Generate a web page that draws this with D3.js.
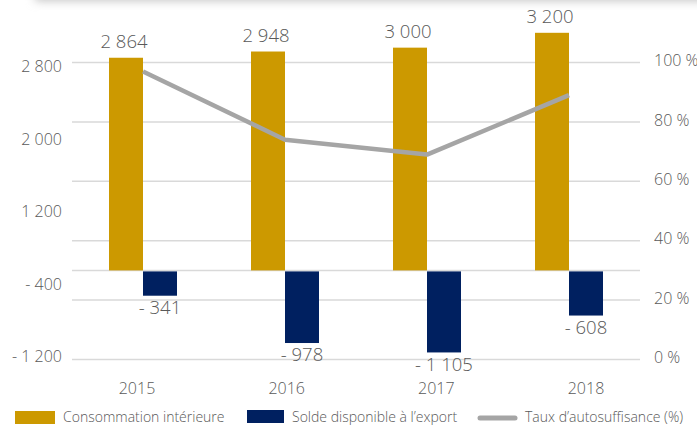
<!DOCTYPE html>
<html>
<head>
<meta charset="utf-8">
<script src="https://cdn.jsdelivr.net/npm/d3@7"></script>
<style>
  body { margin: 0; background: #fff; }
  svg { display: block; font-family: "Open Sans", sans-serif; font-weight: 300; }
  .lbl { fill: #595959; }
</style>
</head>
<body>
<div id="chart"></div>
<script>
var years = ["2015", "2016", "2017", "2018"];
var consommation = [2864, 2948, 3000, 3200];
var solde = [-341, -978, -1105, -608];
var autosuffisance = [97, 74, 69, 89];
var leftTickLabels = ["2 800", "2 000", "1 200", "- 400", "- 1 200"];
var rightTicks = [0, 20, 40, 60, 80, 100];
var seriesNames = ["Consommation intérieure", "Solde disponible à l\u2019export", "Taux d\u2019autosuffisance (%)"];

var gold = "#cc9900";
var navy = "#002060";
var grey = "#a5a5a5";

var width = 697, height = 427;

var fr = d3.formatLocale({decimal: ",", thousands: " ", grouping: [3], currency: ["", ""], minus: "- "});
var fmt = fr.format(",d");

var svg = d3.select("#chart").append("svg")
  .attr("width", width)
  .attr("height", height);

// shadow from the card above
var defs = svg.append("defs");
defs.append("filter").attr("id", "blur")
  .attr("x", "-20%").attr("y", "-100%").attr("width", "140%").attr("height", "300%")
  .append("feGaussianBlur").attr("stdDeviation", 5);
svg.append("rect")
  .attr("x", 35).attr("y", -30).attr("width", 720).attr("height", 31)
  .attr("fill", "#c4c4c4")
  .attr("filter", "url(#blur)");

var x = d3.scaleBand().domain(years).range([72, 640]);
var x1 = d3.scaleBand().domain(["c", "s"])
  .range([x.bandwidth() / 2 - 34, x.bandwidth() / 2 + 34]);

var yL = d3.scaleLinear().domain([-1200, 2800]).range([359.5, 62.5]);
var yR = d3.scaleLinear().domain([0, 100]).range([359.5, 62.5]);

// grid lines
var grid = svg.append("g");
grid.selectAll("line")
  .data(rightTicks).enter()
  .append("line")
  .attr("x1", 72).attr("x2", 640)
  .attr("y1", d => yR(d)).attr("y2", d => yR(d))
  .attr("stroke", "#d9d9d9")
  .attr("stroke-width", 1.5);
grid.append("line")
  .attr("x1", 72).attr("x2", 640)
  .attr("y1", yL(0)).attr("y2", yL(0))
  .attr("stroke", "#d9d9d9")
  .attr("stroke-width", 1.5);

// left labels (spread evenly, as in the source)
var yLab = d3.scalePoint().domain(leftTickLabels).range([66.5, 356.5]);
svg.append("g").selectAll("text")
  .data(leftTickLabels).enter()
  .append("text")
  .attr("class", "lbl")
  .attr("x", 62)
  .attr("y", d => yLab(d))
  .attr("dy", "0.35em")
  .attr("text-anchor", "end")
  .style("font-size", "16px")
  .text(d => d);

// right labels
svg.append("g").selectAll("text")
  .data(rightTicks).enter()
  .append("text")
  .attr("class", "lbl")
  .attr("x", 654)
  .attr("y", d => yR(d) - 2)
  .attr("dy", "0.35em")
  .style("font-size", "16px")
  .text(d => d + " %");

// year labels
var xLab = d3.scalePoint().domain(years).range([137, 586]);
svg.append("g").selectAll("text")
  .data(years).enter()
  .append("text")
  .attr("class", "lbl")
  .attr("x", d => xLab(d))
  .attr("y", 388)
  .attr("dy", "0.35em")
  .attr("text-anchor", "middle")
  .style("font-size", "16px")
  .text(d => d);

// bars
var groups = svg.append("g").selectAll("g")
  .data(years).enter()
  .append("g")
  .attr("transform", d => `translate(${x(d)},0)`);

groups.append("rect")
  .attr("x", x1("c"))
  .attr("width", x1.bandwidth())
  .attr("y", (d, i) => yL(consommation[i]))
  .attr("height", (d, i) => yL(0) - yL(consommation[i]))
  .attr("fill", gold);

groups.append("rect")
  .attr("x", x1("s"))
  .attr("width", x1.bandwidth())
  .attr("y", yL(0) + 1)
  .attr("height", (d, i) => yL(solde[i]) - yL(0) - 1)
  .attr("fill", navy);

groups.append("text")
  .attr("class", "lbl")
  .attr("x", x1("c") + x1.bandwidth() / 2 - 2)
  .attr("y", (d, i) => yL(consommation[i]) - 16)
  .attr("dy", "0.35em")
  .attr("text-anchor", "middle")
  .style("font-size", "18.5px")
  .text((d, i) => fmt(consommation[i]));

groups.append("text")
  .attr("class", "lbl")
  .attr("x", x1("s") + x1.bandwidth() / 2)
  .attr("y", (d, i) => yL(solde[i]) + 12)
  .attr("dy", "0.35em")
  .attr("text-anchor", "middle")
  .style("font-size", "18.5px")
  .text((d, i) => fmt(solde[i]));

// line
var line = d3.line()
  .x((d, i) => x(years[i]) + x.bandwidth() / 2)
  .y(d => yR(d));

svg.append("path")
  .datum(autosuffisance)
  .attr("d", line)
  .attr("fill", "none")
  .attr("stroke", grey)
  .attr("stroke-width", 4.5)
  .attr("stroke-linejoin", "round");

// legend
var leg = svg.append("g").style("font-size", "14px");
leg.append("rect").attr("x", 15).attr("y", 411).attr("width", 40).attr("height", 13).attr("fill", gold);
leg.append("text").attr("class", "lbl").attr("x", 63).attr("y", 417.5).attr("dy", "0.35em").text(seriesNames[0]);
leg.append("rect").attr("x", 247).attr("y", 410).attr("width", 37).attr("height", 13).attr("fill", navy);
leg.append("text").attr("class", "lbl").attr("x", 292).attr("y", 417.5).attr("dy", "0.35em").text(seriesNames[1]);
leg.append("line").attr("x1", 480).attr("x2", 515).attr("y1", 418).attr("y2", 418)
  .attr("stroke", grey).attr("stroke-width", 5).attr("stroke-linecap", "round");
leg.append("text").attr("class", "lbl").attr("x", 525).attr("y", 417.5).attr("dy", "0.35em").text(seriesNames[2]);
</script>
</body>
</html>
